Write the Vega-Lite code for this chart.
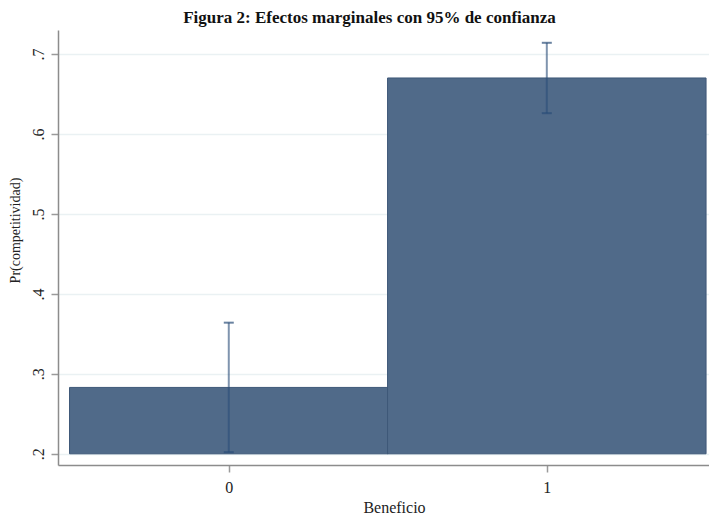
{
  "$schema": "https://vega.github.io/schema/vega-lite/v6.json",
  "width": 651,
  "height": 435,
  "autosize": {"type": "none"},
  "padding": {"left": 58, "top": 30, "right": 0, "bottom": 51},
  "background": "white",
  "config": {
    "view": {"stroke": null},
    "font": "Liberation Serif",
    "axis": {
      "domainColor": "#8c8c8c",
      "domainWidth": 1.5,
      "tickColor": "#9a9a9a",
      "tickWidth": 1.5,
      "tickSize": 7,
      "labelFont": "Liberation Serif",
      "labelFontSize": 16,
      "labelColor": "#222222",
      "titleFont": "Liberation Serif",
      "titleFontSize": 16,
      "titleFontWeight": "normal",
      "titleColor": "#222222"
    }
  },
  "title": {
    "text": "Figura 2: Efectos marginales con 95% de confianza",
    "font": "Liberation Serif",
    "fontSize": 17,
    "fontWeight": "bold",
    "color": "#111111",
    "anchor": "middle",
    "frame": "group",
    "dx": -14,
    "offset": 3
  },
  "data": {
    "values": [
      {"beneficio": 0, "pr": 0.283, "lo": 0.202, "hi": 0.364},
      {"beneficio": 1, "pr": 0.670, "lo": 0.626, "hi": 0.714}
    ]
  },
  "encoding": {
    "x": {
      "field": "beneficio",
      "type": "quantitative",
      "scale": {"domain": [-0.537, 1.51], "nice": false, "zero": false, "padding": 0},
      "axis": {
        "title": "Beneficio",
        "values": [0, 1],
        "format": "d",
        "grid": false,
        "labelPadding": 7,
        "titleX": 336,
        "titleY": 47,
        "titleBaseline": "alphabetic",
        "titleAlign": "center"
      }
    }
  },
  "layer": [
    {
      "mark": {"type": "bar", "width": 318.5, "color": "#506a89", "stroke": "#3e5878", "strokeWidth": 1},
      "encoding": {
        "y": {
          "field": "pr",
          "type": "quantitative",
          "scale": {"domain": [0.186, 0.730], "nice": false, "zero": false, "padding": 0},
          "axis": {
            "title": "Pr(competitividad)",
            "titleFontSize": 14,
            "titleY": 200,
            "titlePadding": 8,
            "values": [0.2, 0.3, 0.4, 0.5, 0.6, 0.7],
            "labelExpr": "replace(format(datum.value, '.1f'), '0.', '.')",
            "labelAngle": 270,
            "labelAlign": "center",
            "labelBaseline": "bottom",
            "labelPadding": 5,
            "grid": true,
            "gridColor": "#eaf1f3",
            "gridWidth": 1.5
          }
        },
        "y2": {"datum": 0.2}
      }
    },
    {
      "mark": {"type": "rule", "color": "#2a4d78", "opacity": 0.6, "strokeWidth": 2},
      "encoding": {
        "y": {"field": "lo", "type": "quantitative"},
        "y2": {"field": "hi"}
      }
    },
    {
      "mark": {"type": "tick", "orient": "horizontal", "color": "#2a4d78", "opacity": 0.7, "size": 10, "thickness": 2},
      "encoding": {
        "y": {"field": "hi", "type": "quantitative"}
      }
    },
    {
      "mark": {"type": "tick", "orient": "horizontal", "color": "#2a4d78", "opacity": 0.7, "size": 10, "thickness": 2},
      "encoding": {
        "y": {"field": "lo", "type": "quantitative"}
      }
    }
  ]
}
